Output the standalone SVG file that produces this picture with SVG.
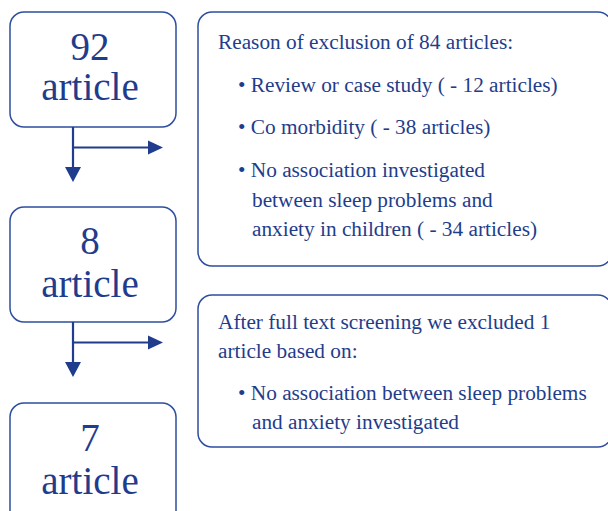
<svg xmlns="http://www.w3.org/2000/svg" width="608" height="511" viewBox="0 0 608 511">
<style>
.box{fill:#fff;stroke:#2E4E9E;stroke-width:1.5}
.big{font-family:"Liberation Serif","Times New Roman",serif;font-size:39px;fill:#1F3D8C;text-anchor:middle}
.t{font-family:"Liberation Serif","Times New Roman",serif;font-size:21.3px;fill:#1F3D8C}
.ln{stroke:#1F3D8C;stroke-width:2.2;fill:none}
.ah{fill:#1F3D8C}
</style>
<rect width="608" height="511" fill="#fff"/>
<g id="n92">
<rect class="box" x="10" y="12" width="166" height="115" rx="14"/>
<text class="big" x="90" y="60">92</text>
<text class="big" x="90" y="100">article</text>
</g>
<g id="n8">
<rect class="box" x="10" y="207" width="166" height="115" rx="14"/>
<text class="big" x="90" y="254">8</text>
<text class="big" x="90" y="297">article</text>
</g>
<g id="n7">
<rect class="box" x="10" y="403" width="166" height="130" rx="14"/>
<text class="big" x="90" y="451">7</text>
<text class="big" x="90" y="494">article</text>
</g>
<g id="ex1">
<rect class="box" x="198" y="12" width="414" height="254" rx="14"/>
<text class="t" x="218" y="49">Reason of exclusion of 84 articles:</text>
<text class="t" x="238" y="92">• Review or case study ( - 12 articles)</text>
<text class="t" x="238" y="134">• Co morbidity ( - 38 articles)</text>
<text class="t" x="238" y="177">• No association investigated</text>
<text class="t" x="252" y="207">between sleep problems and</text>
<text class="t" x="252" y="236">anxiety in children ( - 34 articles)</text>
</g>
<g id="ex2">
<rect class="box" x="198" y="295" width="414" height="152" rx="14"/>
<text class="t" x="218" y="329">After full text screening we excluded 1</text>
<text class="t" x="218" y="358">article based on:</text>
<text class="t" x="238" y="400">• No association between sleep problems</text>
<text class="t" x="252" y="429">and anxiety investigated</text>
</g>
<g id="connectors">
<path class="ln" d="M73 127 V168 M73 147.5 H149"/>
<polygon class="ah" points="65,167 81,167 73,182"/>
<polygon class="ah" points="148,140.5 148,154.5 163,147.5"/>
<path class="ln" d="M73 322 V363 M73 342.5 H149"/>
<polygon class="ah" points="65,362 81,362 73,377"/>
<polygon class="ah" points="148,335.5 148,349.5 163,342.5"/>
</g>
</svg>
